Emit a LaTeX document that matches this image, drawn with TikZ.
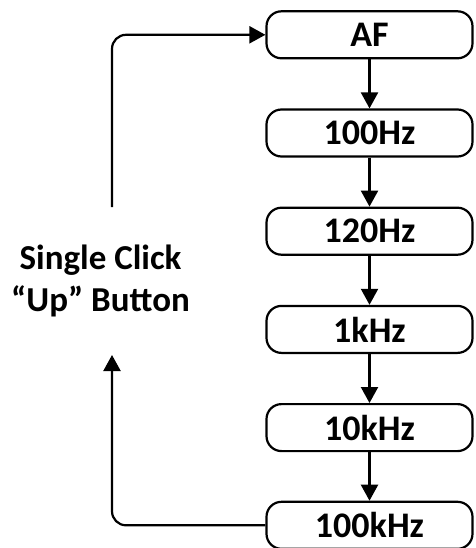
\documentclass[tikz,border=0pt]{standalone}
\usepackage{fontspec}
\setmainfont{Carlito}
\usetikzlibrary{arrows.meta}
\tikzset{
  freq/.style={draw=black, line width=2.2pt, rounded corners=15pt, minimum width=206pt, minimum height=47pt, inner sep=0pt, font=\fontsize{36}{40}\selectfont\bfseries},
  conn/.style={draw=black, line width=2.2pt, -{Triangle[length=16pt,width=17pt]}},
  lbl/.style={align=center, font=\fontsize{35}{42}\selectfont\bfseries}
}
\begin{document}
\begin{tikzpicture}[x=1pt,y=-1pt]
\useasboundingbox (0,0) rectangle (475,548);
\node[freq] (af)   at (369.5,34.8)  {AF};
\node[freq] (f100) at (369.5,133)   {100Hz};
\node[freq] (f120) at (369.5,231.2) {120Hz};
\node[freq] (f1k)  at (369.5,329.4) {1kHz};
\node[freq] (f10k) at (369.5,427.6) {10kHz};
\node[freq] (f100k) at (369.5,525.3) {100kHz};
\node[lbl] (txt) at (100.5,281) {Single Click\\“Up” Button};
\coordinate (upstart) at (112,207);
\coordinate (upend) at (112,355);
\draw[conn] (af) -- (f100);
\draw[conn] (f100) -- (f120);
\draw[conn] (f120) -- (f1k);
\draw[conn] (f1k) -- (f10k);
\draw[conn] (f10k) -- (f100k);
\draw[conn, rounded corners=14pt] (upstart) |- (af.west);
\draw[conn, rounded corners=14pt] (f100k.west) -| (upend);
\end{tikzpicture}
\end{document}
